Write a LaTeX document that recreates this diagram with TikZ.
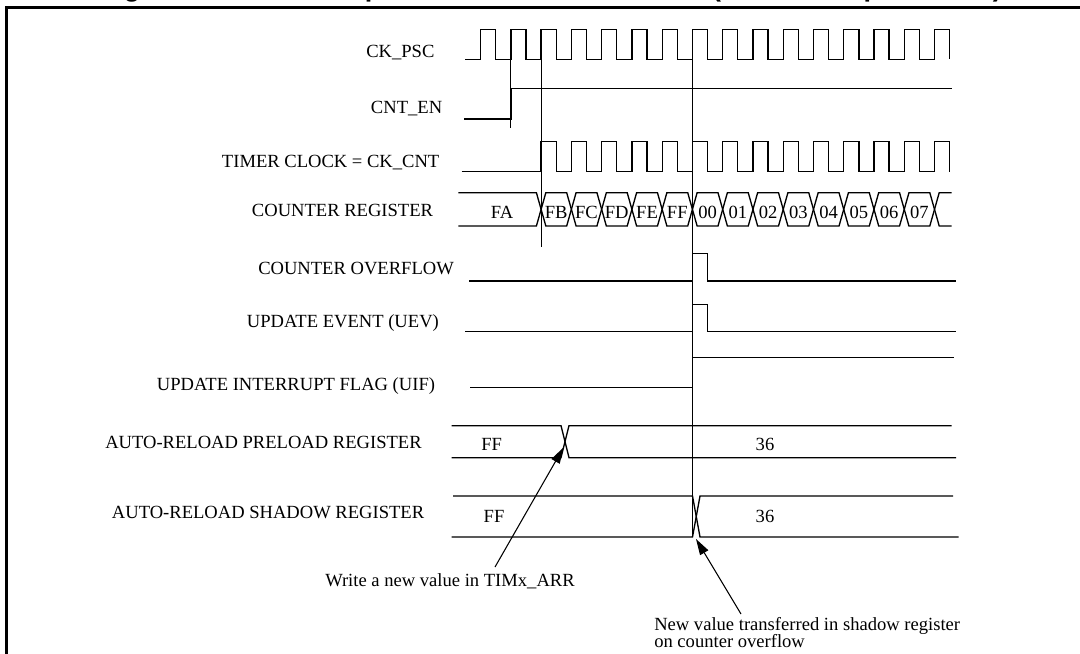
\documentclass[tikz,border=0pt]{standalone}
\usepackage{fontspec}
\setmainfont{Liberation Serif}
\newfontfamily\titlefont{Liberation Sans}
\usetikzlibrary{arrows.meta,calc}

\begin{document}
\begin{tikzpicture}[x=0.75pt,y=-0.75pt,
    wave/.style={line width=1pt},
    guide/.style={line width=0.75pt},
    lab/.style={font=\fontsize{13.93}{16}\selectfont,inner sep=0pt,anchor=base west},
    val/.style={font=\fontsize{13.93}{16}\selectfont,inner sep=0pt,anchor=base},
    note/.style={line width=0.8pt,-{Triangle[length=12pt,width=7pt]}}]
  \useasboundingbox (0,0) rectangle (1080,653);
  \clip (0,0) rectangle (1080,653);
  % title, cut by the top edge
  \node[font={\titlefont\bfseries\fontsize{20.25}{24}\selectfont},inner sep=0pt,anchor=base west]
    (title) at (99.6,-3) {Figure 87. Counter update event when ARPE=1 (TIMx\_ARR preloaded)};
  \draw[line width=1.6pt] (6.5,7.5) rectangle (1100,680);
  % signal names
  \node[lab] (lpsc) at (366,57.7) {CK\_PSC};
  \node[lab] (len) at (370.7,113.3) {CNT\_EN};
  \node[lab] (lclk) at (221.7,167.7) {TIMER CLOCK = CK\_CNT};
  \node[lab] (lcnt) at (251.7,216.7) {COUNTER REGISTER};
  \node[lab] (lovf) at (258,274) {COUNTER OVERFLOW};
  \node[lab] (luev) at (246.7,327) {UPDATE EVENT (UEV)};
  \node[lab] (luif) at (156.7,390) {UPDATE INTERRUPT FLAG (UIF)};
  \node[lab] (lpre) at (105,448.3) {AUTO-RELOAD PRELOAD REGISTER};
  \node[lab] (lsha) at (111.7,518.3) {AUTO-RELOAD SHADOW REGISTER};
  % clocks
  \draw[wave] (465,59.3) \foreach \k in {0,...,15}{
    -- ({480.6+30.26*\k},59.3) -- ++(0,-30) -- ++(15.13,0) -- ++(0,30)};
  \draw[wave] (464,119) -| (510.9,88.3) -- (951.7,88.3);
  \draw[wave] (461.7,171.7) \foreach \k in {2,...,15}{
    -- ({480.6+30.26*\k},171.7) -- ++(0,-30) -- ++(15.13,0) -- ++(0,30)};
  % counter register
  \draw[wave] (458.3,192.7) -- (536.4,192.7) -- (541.1,209.35) -- (536.4,226) -- (458.3,226);
  \node[val] (cFA) at (502,218) {FA};
  \foreach \v [count=\k from 2] in {FB,FC,FD,FE,FF,00,01,02,03,04,05,06,07}{
    \pgfmathsetmacro\ta{480.6+30.26*\k}
    \pgfmathsetmacro\tb{\ta+30.26}
    \draw[wave] (\ta,209.35) -- (\ta+4.7,192.7) -- (\tb-4.7,192.7) -- (\tb,209.35)
      -- (\tb-4.7,226) -- (\ta+4.7,226) -- cycle;
    \node[val] (c\v) at ({(\ta+\tb)/2},218) {\v};
  }
  \draw[wave] (951.7,192.7) -- (939.2,192.7) -- (934.5,209.35) -- (939.2,226) -- (951.7,226);
  % overflow, event, flag
  \draw[wave] (469.3,281) -| (692.4,253.3) -| (707.5,281) -- (956,281);
  \draw[wave] (465,331.7) -| (692.4,304.3) -| (707.5,331.7) -- (956,331.7);
  \draw[wave] (470,387.3) -| (692.4,357.7) -- (954.3,357.7);
  % auto-reload registers
  \draw[wave] (451.7,425.7) -- (561,425.7) -- (569,457.7) -- (956,457.7);
  \draw[wave] (451.7,457.7) -- (561,457.7) -- (569,425.7) -- (951.7,425.7);
  \node[val] (pFF) at (491.7,450) {FF};
  \node[val] (p36) at (765,450) {36};
  \draw[wave] (453,496) -- (692.5,496) -- (700,537) -- (958.5,537);
  \draw[wave] (451.7,537) -- (692.5,537) -- (700,496) -- (953,496);
  \node[val] (sFF) at (494,522) {FF};
  \node[val] (s36) at (765,522) {36};
  % guides
  \draw[guide] (510.9,59.3) -- (510.9,128);
  \draw[guide] (541.1,59.3) -- (541.1,247);
  \draw[guide] (692.4,59.3) -- (692.4,537);
  % notes
  \node[lab] (wrnote) at (325,586) {Write a new value in TIMx\_ARR};
  \node[lab] (trnote) at (654,630) {New value transferred in shadow register};
  \node[lab] (trnote2) at (654,647) {on counter overflow};
  \coordinate (wrtail) at (495,567);
  \coordinate (wrtip) at (563.5,447.5);
  \coordinate (trtail) at (741,614);
  \coordinate (trtip) at (696,539);
  \draw[note] (wrtail) -- (wrtip);
  \draw[note] (trtail) -- (trtip);
\end{tikzpicture}
\end{document}
